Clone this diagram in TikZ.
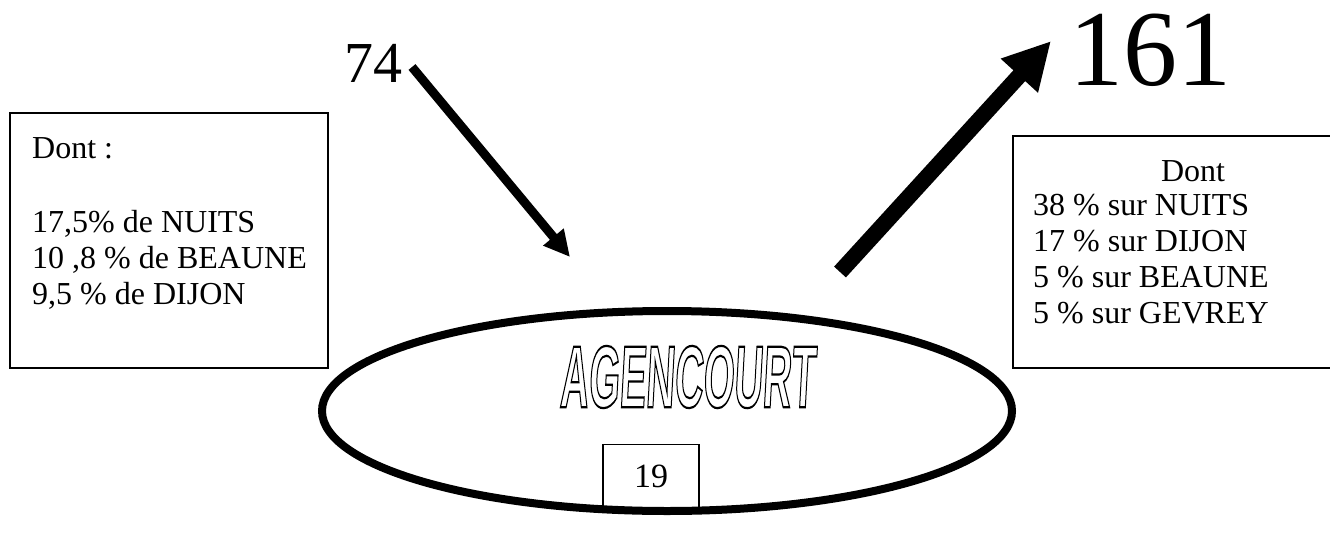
\documentclass[tikz,border=0pt]{standalone}
\usepackage{fontspec}
\setmainfont{Liberation Serif}
\newfontfamily\agfont[FakeSlant=0.12]{Liberation Sans Bold}
\usetikzlibrary{arrows.meta, shapes.geometric}
% hollow letters: stroke only (text render mode 1)
\newcommand{\hollowtext}[1]{%
  \special{pdf:literal direct 1 Tr 2.2 w}#1\special{pdf:literal direct 0 Tr}}

\begin{document}
\begin{tikzpicture}[x=1pt, y=-1pt]
  \useasboundingbox (0,0) rectangle (1330,543);
  % figures next to the arrows
  \node[font=\fontsize{58}{58}\selectfont] (inNum) at (373,63) {74};
  \node[font=\fontsize{108}{108}\selectfont] (outNum) at (1150,50) {161};
  % left box: where the 74 come from
  \draw[line width=1.6pt] (10,113) rectangle (328,368);
  \node[anchor=north west, inner sep=0pt, align=left,
        font=\fontsize{32}{36}\selectfont] (fromTxt) at (32,137)
    {Dont :\\[38pt]17,5\% de NUITS\\10 ,8 \% de BEAUNE\\9,5 \% de DIJON};
  % right box: where the 161 go, cut at the page edge
  \draw[line width=1.6pt] (1335,136) -- (1013,136) -- (1013,368) -- (1335,368);
  \node[anchor=base, inner sep=0pt, font=\fontsize{32}{36}\selectfont]
    (toHead) at (1193,181) {Dont};
  \node[anchor=north west, inner sep=0pt, align=left,
        font=\fontsize{32}{36}\selectfont] (toTxt) at (1033,194)
    {38 \% sur NUITS\\17 \% sur DIJON\\5 \% sur BEAUNE\\5 \% sur GEVREY};
  % the town in the middle
  \node[draw, ellipse, line width=8pt, minimum width=690, minimum height=200,
        inner sep=0pt] (town) at (667,411) {};
  \node[inner sep=0pt] (townName) at (687,377)
    {\scalebox{0.45}[1]{\agfont\fontsize{88}{88}\selectfont
      \hollowtext{AGENCOURT}}};
  \node[draw, line width=1.6pt, minimum width=96, minimum height=63,
        inner sep=0pt, font=\fontsize{34}{34}\selectfont] (stay) at (651,476) {19};
  % arrows in and out
  \coordinate (inStart) at (412,67);
  \coordinate (inTip) at (570,257);
  \coordinate (outStart) at (840,272);
  \coordinate (outTip) at (1051,41);
  \draw[line width=9pt, -{Triangle[length=26pt, width=25pt]}] (inStart) -- (inTip);
  \draw[line width=16pt, -{Triangle[length=47pt, width=47pt]}] (outStart) -- (outTip);
\end{tikzpicture}
\end{document}
